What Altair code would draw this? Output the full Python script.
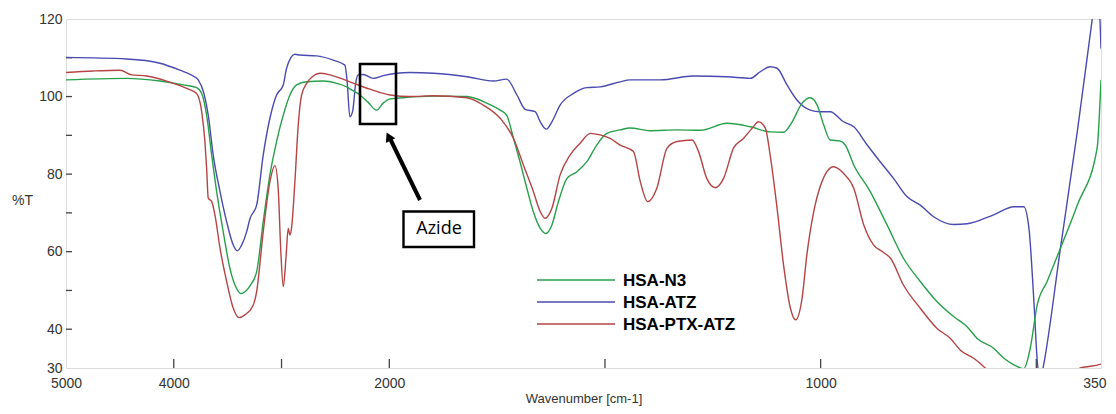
import altair as alt
import pandas as pd

# ---------------- data ----------------
series_names = ["HSA-N3", "HSA-ATZ", "HSA-PTX-ATZ"]
series_colors = ["#27a04a", "#4a4ab0", "#b54444"]

atz_wn = [5000, 4437, 4128, 3943, 3819, 3773, 3720, 3680, 3634, 3571, 3509, 3448, 3411, 3370,
          3324, 3293, 3231, 3170, 3108, 3046, 2984, 2953, 2876, 2829, 2675, 2520, 2412, 2391,
          2366, 2341, 2310, 2289, 2242, 2149, 2057, 1983, 1952, 1898, 1820, 1759, 1728, 1704,
          1685, 1662, 1650, 1636, 1623, 1604, 1573, 1542, 1511, 1465, 1442, 1372, 1295, 1217,
          1163, 1140, 1117, 1101, 1078, 1055, 1024, 1001, 978, 947, 923, 892, 862, 831, 800,
          769, 738, 691, 660, 599, 552, 529, 517, 506, 497, 490, 483, 444, 405, 370, 358, 350]
atz_t = [110.1, 109.7, 108.6, 106.8, 105.3, 104.3, 100.8, 95.2, 84.9, 75.5, 67.7, 61.7, 60.2, 61.7,
         65.1, 68.5, 72.0, 84.9, 94.4, 100.4, 103.0, 107.3, 110.9, 110.7, 110.5, 109.4, 108.1, 103.8,
         94.8, 96.1, 103.8, 105.6, 105.7, 104.7, 105.4, 106.0, 106.2, 106.0, 105.1, 104.0, 104.5, 100.4,
         96.7, 96.1, 93.5, 91.6, 93.5, 97.8, 100.8, 102.3, 102.5, 103.8, 104.3, 104.3, 105.3, 105.1,
         104.7, 106.4, 107.7, 107.3, 103.0, 99.1, 96.5, 96.1, 96.1, 93.5, 92.2, 87.5, 83.2, 78.9, 74.2,
         72.0, 69.0, 67.0, 67.2, 69.5, 71.6, 71.6, 66.0, 48.0, 30.8, 27.0, 30.8, 60.9, 90.9, 120.2, 130.0, 112.4]

n3_wn = [5000, 4437, 4128, 3912, 3788, 3741, 3695, 3648, 3602, 3541, 3479, 3417, 3379, 3293,
         3231, 3170, 3108, 3046, 2984, 2922, 2860, 2767, 2613, 2489, 2396, 2350, 2273, 2196,
         2118, 2057, 1998, 1968, 1898, 1820, 1774, 1743, 1728, 1712, 1697, 1681, 1666, 1650,
         1637, 1623, 1608, 1588, 1565, 1542, 1519, 1496, 1465, 1442, 1395, 1333, 1279, 1217,
         1163, 1117, 1086, 1066, 1043, 1024, 1008, 993, 978, 954, 943, 923, 885, 846, 808,
         769, 730, 691, 660, 637, 599, 575, 552, 529, 514, 498, 475, 444, 405, 359, 350]
n3_t = [104.3, 104.7, 104.0, 103.0, 102.3, 100.8, 95.2, 84.9, 75.5, 65.1, 55.7, 50.5, 49.2, 51.2,
        54.8, 67.7, 79.8, 88.4, 95.2, 100.4, 103.0, 103.8, 104.0, 103.4, 102.5, 101.7, 100.4, 98.5,
        96.5, 98.3, 99.4, 99.7, 100.1, 100.0, 98.3, 96.5, 95.2, 89.2, 83.2, 76.3, 70.3, 66.0,
        64.7, 66.9, 72.9, 78.9, 80.6, 83.2, 87.5, 90.5, 91.4, 91.9, 91.2, 91.4, 91.3, 93.1,
        92.2, 90.9, 90.8, 93.5, 98.3, 99.7, 97.8, 92.7, 88.8, 88.5, 87.5, 82.3, 75.5, 66.9, 58.3,
        52.3, 47.1, 43.2, 40.6, 37.6, 35.1, 32.5, 30.8, 29.8, 35.1, 46.2, 52.3, 60.9, 72.0, 86.7, 104.3]

ptx_wn = [5000, 4747, 4499, 4391, 4251, 4066, 3880, 3788, 3741, 3711, 3695, 3680, 3648, 3618,
          3571, 3509, 3448, 3395, 3340, 3263, 3231, 3170, 3108, 3061, 3031, 3008, 2984, 2959,
          2938, 2922, 2906, 2876, 2845, 2814, 2767, 2706, 2644, 2551, 2366, 2180, 1998, 1952,
          1898, 1820, 1782, 1743, 1712, 1689, 1666, 1650, 1639, 1623, 1604, 1581, 1558, 1534,
          1511, 1488, 1465, 1434, 1418, 1401, 1380, 1356, 1333, 1298, 1283, 1264, 1244, 1225,
          1202, 1179, 1159, 1144, 1128, 1117, 1101, 1086, 1070, 1058, 1043, 1032, 1016, 1001,
          970, 947, 923, 900, 877, 854, 838, 808, 769, 730, 699, 676, 645, 614, 560, 480, 420,
          398, 370, 350]
ptx_t = [106.2, 106.6, 106.8, 105.6, 105.3, 104.0, 102.1, 100.8, 96.1, 88.4, 81.5, 73.8, 72.9, 69.5,
         60.9, 52.3, 45.4, 43.0, 43.7, 46.2, 49.7, 65.1, 78.0, 82.2, 76.3, 60.9, 51.0, 58.3,
         66.0, 64.3, 66.4, 78.0, 92.7, 100.4, 103.4, 105.3, 106.0, 105.6, 103.8, 101.9, 100.4, 100.0,
         100.2, 99.7, 97.8, 94.4, 89.2, 82.3, 75.5, 70.3, 68.6, 71.2, 79.8, 84.9, 87.9, 90.5,
         90.1, 89.2, 87.5, 85.8, 78.0, 72.9, 76.3, 86.7, 88.4, 88.8, 85.8, 78.9, 76.5, 78.9,
         86.7, 89.2, 91.8, 93.5, 91.8, 84.9, 71.2, 56.6, 45.4, 42.4, 48.0, 59.1, 70.3, 76.8,
         81.9, 80.2, 76.3, 66.9, 61.7, 59.8, 58.3, 51.4, 45.4, 40.2, 37.6, 34.6, 32.5, 29.5, 22.0, 20.0, 27.0,
         30.0, 30.5, 31.0]

x_label_values = [5000, 4000, 2000, 1000, 350]
x_minor_ticks = [4000, 3000, 2000, 1500, 1000, 500]
y_label_values = [30, 40, 60, 80, 100, 120]
y_minor_ticks = [40, 50, 60, 70, 80, 90, 100, 110]

# ---------------- build tables ----------------
rows = []
for name, wn, t in [("HSA-ATZ", atz_wn, atz_t), ("HSA-N3", n3_wn, n3_t), ("HSA-PTX-ATZ", ptx_wn, ptx_t)]:
    for i, (a, b) in enumerate(zip(wn, t)):
        rows.append({"s": name, "wn": a, "T": b, "i": i})
df = pd.DataFrame(rows)

W, H = 1035, 349
FONT = "Liberation Sans"
AXC = "#333333"

xscale = alt.Scale(domain=[5000, 2000, 350], range=[0, 323.3, W], zero=False, nice=False)
yscale = alt.Scale(domain=[30, 120], zero=False, nice=False)

xaxis = alt.Axis(values=x_label_values, ticks=False, domain=False, grid=False, format="d",
                 labelFont=FONT, labelFontSize=14, labelColor=AXC, labelPadding=8,
                 labelAlign={"expr": "datum.value == 350 ? 'right' : 'center'"},
                 labelOffset={"expr": "datum.value == 350 ? 5 : 0"},
                 title="Wavenumber [cm-1]", titleFont=FONT, titleFontSize=13,
                 titleFontWeight="normal", titleColor=AXC, titlePadding=2,
                 labelFlush=False, labelOverlap=False)
yaxis = alt.Axis(values=y_label_values, ticks=False, domain=False, grid=False, format="d",
                 labelFont=FONT, labelFontSize=14, labelColor=AXC, labelPadding=4,
                 title="%T", titleFont=FONT, titleFontSize=14, titleFontWeight="normal",
                 titleColor=AXC, titleAngle=0, titleAlign="center", titleBaseline="middle",
                 titleX=-44, titleY=181, labelFlush=False, labelOverlap=False)

X = alt.X("wn:Q", scale=xscale, axis=xaxis)
Y = alt.Y("T:Q", scale=yscale, axis=yaxis)

lines = alt.Chart(df).mark_line(clip=True, strokeWidth=1.4, interpolate="monotone").encode(
    x=X, y=Y,
    color=alt.Color("s:N", scale=alt.Scale(domain=series_names, range=series_colors), legend=None),
    detail="s:N",
    order=alt.Order("i:Q"),
)

xt = alt.Chart(pd.DataFrame({"wn": x_minor_ticks})).mark_rule(color="#444", strokeWidth=1.3).encode(
    x=X, y=alt.value(H), y2=alt.value(H - 9))
yt = alt.Chart(pd.DataFrame({"T": y_minor_ticks})).mark_rule(color="#444", strokeWidth=1.3).encode(
    y=Y, x=alt.value(0), x2=alt.value(6))

one = pd.DataFrame({"k": [0]})
layers = [xt, yt, lines]

# legend (manual, inside the plot)
leg_y0, leg_dy = 261, 22
for r, (name, col) in enumerate(zip(series_names, series_colors)):
    yy = leg_y0 + r * leg_dy
    layers.append(alt.Chart(one).mark_rule(color=col, strokeWidth=1.5).encode(
        x=alt.value(471), x2=alt.value(549), y=alt.value(yy)))
    layers.append(alt.Chart(one).mark_text(text=name, font=FONT, fontSize=17, fontWeight="bold",
                                           align="left", baseline="middle", color="#000").encode(
        x=alt.value(557), y=alt.value(yy + 1)))

# annotation: box around azide band, arrow, label
layers.append(alt.Chart(one).mark_rect(fillOpacity=0, stroke="#000", strokeWidth=2.6).encode(
    x=alt.value(294), x2=alt.value(330), y=alt.value(45), y2=alt.value(105)))
layers.append(alt.Chart(one).mark_rule(color="#000", strokeWidth=4).encode(
    x=alt.value(354), y=alt.value(181), x2=alt.value(323.5), y2=alt.value(118.5)))
layers.append(alt.Chart(one).mark_point(shape="triangle-up", filled=True, color="#000",
                                        size=110, angle=334, opacity=1).encode(
    x=alt.value(322.6), y=alt.value(117.5)))
layers.append(alt.Chart(one).mark_rect(fill="#fff", stroke="#000", strokeWidth=2.4).encode(
    x=alt.value(337.5), x2=alt.value(408), y=alt.value(192.5), y2=alt.value(228)))
layers.append(alt.Chart(one).mark_text(text="Azide", font="Open Sans", fontSize=18,
                                       align="center", baseline="middle", color="#000").encode(
    x=alt.value(373), y=alt.value(210)))

chart = alt.layer(*layers).properties(
    width=W, height=H,
    autosize=alt.AutoSizeParams(type="none"),
    padding={"left": 58, "top": 11, "right": 7, "bottom": 38},
).configure_view(stroke="#555555", strokeWidth=1.5).configure(background="white")

chart.save("out.html", embed_options={"renderer": "svg", "actions": False})
